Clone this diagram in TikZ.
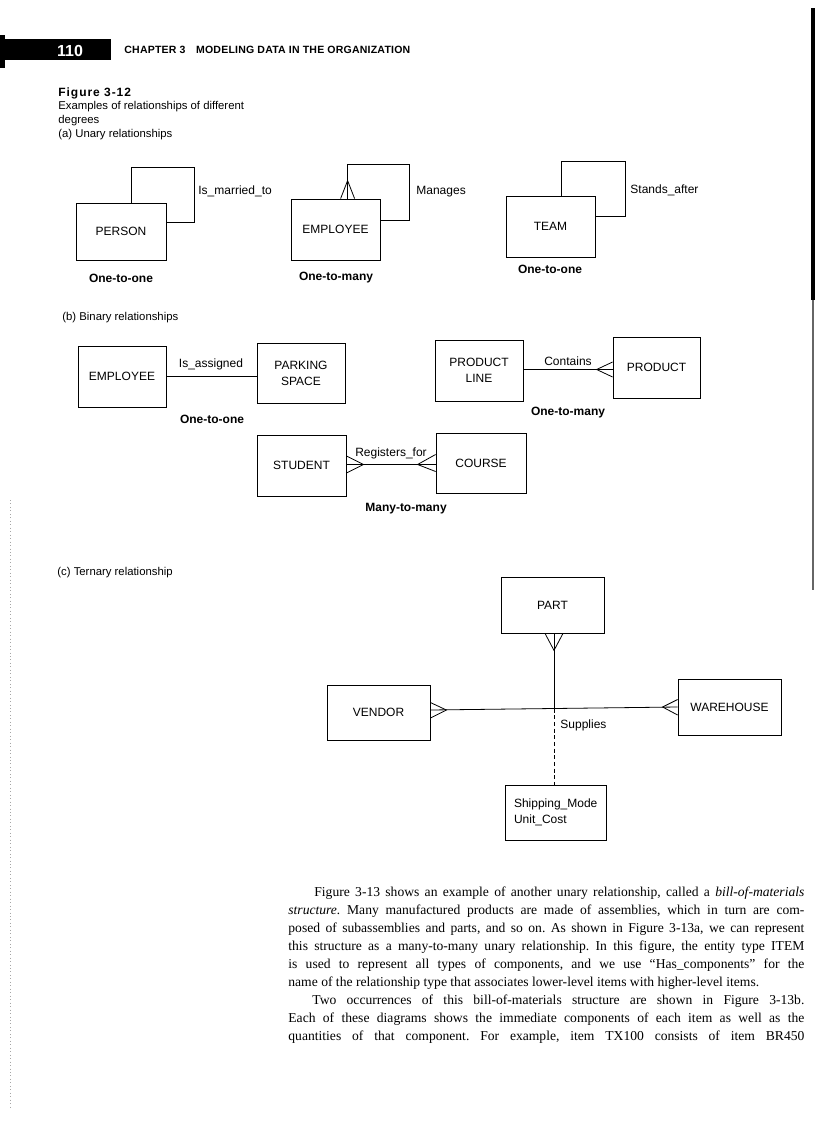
\documentclass[tikz,border=0pt]{standalone}
\usepackage{fontspec}
\setmainfont{Liberation Serif}
\setsansfont{Liberation Sans}
\newfontfamily\hdrfont{Liberation Sans}[LetterSpace=2]
\newfontfamily\figfont{Liberation Sans}[LetterSpace=8]
\usetikzlibrary{calc}
\begin{document}
\frenchspacing
\begin{tikzpicture}[x=0.75pt,y=-0.75pt, line width=0.6pt,
  sz/.style 2 args={minimum width=#1*0.75pt, minimum height=#2*0.75pt},
  ent/.style={draw, inner sep=0pt, font=\sffamily\fontsize{9}{12}\selectfont, align=center},
  lbl/.style={font=\sffamily\fontsize{9}{10.5}\selectfont, inner sep=0pt},
  card/.style={font=\sffamily\bfseries\fontsize{9}{10.5}\selectfont, inner sep=0pt},
  capt/.style={font=\sffamily\fontsize{8.5}{10}\selectfont, inner sep=0pt, anchor=base west},
  body/.style={font=\rmfamily\fontsize{10.2}{12}\selectfont, inner sep=0pt, anchor=base west},
  dashline/.style={dash pattern=on 3pt off 2pt}
]
\useasboundingbox[fill=white] (0,0) rectangle (816,1123);

% ---------- page header ----------
\fill (0,35) rectangle (5,68);
\fill (5,39) rectangle (111,60);
\node[text=white, inner sep=0pt, font=\sffamily\bfseries\fontsize{12}{12}\selectfont] (pg) at (70,50.5) {110};
\node[anchor=base west, inner sep=0pt, font=\hdrfont\bfseries\fontsize{7.9}{8}\selectfont] (hdr) at (124,54) {CHAPTER 3\quad MODELING DATA IN THE ORGANIZATION};
\fill (811,8) rectangle (815,300);
\draw[black!60, line width=0.8pt] (813,300) -- (813,590);
\draw[black!35, dotted] (10,500) -- (10,1110);

% ---------- caption ----------
\node[anchor=base west, inner sep=0pt, font=\figfont\bfseries\fontsize{9}{10}\selectfont] (fig) at (58,97) {Figure 3-12};
\node[capt] (c1) at (58,110) {Examples of relationships of different};
\node[capt] (c2) at (58,124) {degrees};
\node[capt] (c3) at (58,138) {(a) Unary relationships};

% ---------- (a) unary ----------
\node[ent, sz={90}{57}] (person) at (121,231.5) {PERSON};
\draw ($(person.north west)+(56,0)$) |- ++(63,-35) |- ($(person.east)+(0,-9.5)$);
\node[lbl, anchor=west] (l1) at (198,191) {Is\_married\_to};
\node[card] (k1) at (121,278) {One-to-one};

\node[ent, sz={89}{61}] (emp1) at (335.5,229.5) {EMPLOYEE};
\draw ($(emp1.north west)+(57,0)$) |- ++(62,-34) |- ($(emp1.east)+(0,-9.5)$);
\coordinate (e1a) at ($(emp1.north west)+(57,-18)$);
\draw ($(emp1.north west)+(50,0)$) -- (e1a) -- ($(emp1.north west)+(64,0)$);
\node[lbl, anchor=west] (l2) at (416,192) {Manages};
\node[card] (k2) at (336,278) {One-to-many};

\node[ent, sz={89}{61}] (team) at (550.5,226.5) {TEAM};
\draw ($(team.north west)+(56,0)$) |- ++(64,-34) |- ($(team.east)+(0,-10.5)$);
\node[lbl, anchor=west] (l3) at (630,190) {Stands\_after};
\node[card] (k3) at (550,269) {One-to-one};

% ---------- (b) binary ----------
\node[capt] (cb) at (62,320) {(b) Binary relationships};

\node[ent, sz={88}{61}] (emp2) at (122,376.5) {EMPLOYEE};
\node[ent, sz={88}{60}] (park) at (301,373) {PARKING\\SPACE};
\draw (emp2.east) -- (emp2.east -| park.west);
\node[lbl] (l4) at (211,364) {Is\_assigned};
\node[card] (k4) at (212,419) {One-to-one};

\node[ent, sz={88}{61}] (pl) at (479,370.5) {PRODUCT\\LINE};
\node[ent, sz={87}{61}] (prod) at (656.5,367.5) {PRODUCT};
\coordinate (ca) at ($(prod.west)+(-16,2)$);
\draw (pl.east |- ca) -- (prod.west |- ca);
\draw ($(prod.west)+(0,-5.5)$) -- (ca) -- ($(prod.west)+(0,9.5)$);
\node[lbl] (l5) at (568,361) {Contains};
\node[card] (k5) at (568,413) {One-to-many};

\node[ent, sz={89}{61}] (student) at (301.5,465.5) {STUDENT};
\node[ent, sz={90}{60}] (course) at (481,463) {COURSE};
\coordinate (sa) at ($(student.east)+(17,-1)$);
\coordinate (cca) at ($(course.west)+(-18,1.5)$);
\draw (student.east |- sa) -- (course.west |- sa);
\draw ($(student.east)+(0,-9.5)$) -- (sa) -- ($(student.east)+(0,7.5)$);
\draw ($(course.west)+(0,-8.5)$) -- (cca) -- ($(course.west)+(0,8.5)$);
\node[lbl] (l6) at (391,453) {Registers\_for};
\node[card] (k6) at (406,509) {Many-to-many};

% ---------- (c) ternary ----------
\node[capt] (cc) at (57,575) {(c) Ternary relationship};

\node[ent, sz={103}{56}] (part) at (552.5,605) {PART};
\node[ent, sz={103}{55}] (vendor) at (378.5,712.5) {VENDOR};
\node[ent, sz={103}{56}] (warehouse) at (729.5,707) {WAREHOUSE};
\node[draw, sz={101}{55}, inner xsep=6.75pt, inner ysep=0pt, text width=62.25pt, align=left,
      font=\sffamily\fontsize{9}{11.8}\selectfont] (ship) at (555.5,812.5) {Shipping\_Mode\\Unit\_Cost};

\coordinate (vE) at ($(vendor.east)+(0,-2.5)$);
\coordinate (J) at ($(vE)!0.5!(warehouse.west)$);
\draw (vE) -- (warehouse.west);
\draw (part.south -| J) -- (J);
\coordinate (pa) at ($(part.south -| J)+(0,17)$);
\draw ($(part.south -| J)+(-9,0)$) -- (pa) -- ($(part.south -| J)+(9,0)$);
\coordinate (va) at ($(vE)+(16,0)$);
\draw ($(vE)+(0,-7.5)$) -- (va) -- ($(vE)+(0,8)$);
\coordinate (wa) at ($(warehouse.west)+(-15,0)$);
\draw ($(warehouse.west)+(0,-7.5)$) -- (wa) -- ($(warehouse.west)+(0,8)$);
\draw[dashline] (J) -- (J |- ship.north);
\node[lbl, anchor=west] (l7) at (560,725) {Supplies};

% ---------- body text ----------
\node[body] (b1) at (314,896.5) {\makebox[367.5pt][s]{Figure 3-13 shows an example of another unary relationship, called a \textit{bill-of-materials}}};
\node[body] (b2) at (288,914.5) {\makebox[387pt][s]{\textit{structure.} Many manufactured products are made of assemblies, which in turn are com-}};
\node[body] (b3) at (288,932.5) {\makebox[387pt][s]{posed of subassemblies and parts, and so on. As shown in Figure 3-13a, we can represent}};
\node[body] (b4) at (288,950.5) {\makebox[387pt][s]{this structure as a many-to-many unary relationship. In this figure, the entity type ITEM}};
\node[body] (b5) at (288,968.5) {\makebox[387pt][s]{is used to represent all types of components, and we use “Has\_components” for the}};
\node[body] (b6) at (288,986.5) {name of the relationship type that associates lower-level items with higher-level items.};
\node[body] (b7) at (312,1004.5) {\makebox[369pt][s]{Two occurrences of this bill-of-materials structure are shown in Figure 3-13b.}};
\node[body] (b8) at (288,1022.5) {\makebox[387pt][s]{Each of these diagrams shows the immediate components of each item as well as the}};
\node[body] (b9) at (288,1040.5) {\makebox[387pt][s]{quantities of that component. For example, item TX100 consists of item BR450}};
\end{tikzpicture}
\end{document}
